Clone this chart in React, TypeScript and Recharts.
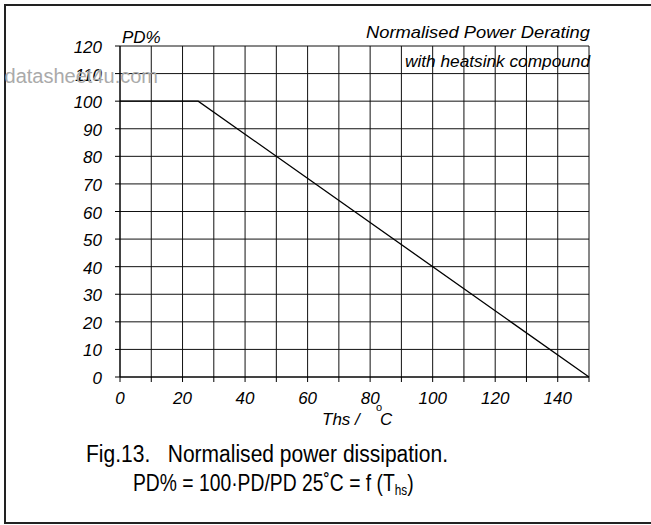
import React from 'react';
import { LineChart, Line, XAxis, YAxis, CartesianGrid } from 'recharts';

// heatsink temperature (°C) and normalised power (%)
const temps = [0, 25, 150];
const derating = [100, 100, 0];

const xTicks = [0, 10, 20, 30, 40, 50, 60, 70, 80, 90, 100, 110, 120, 130, 140, 150];
const yTicks = [0, 10, 20, 30, 40, 50, 60, 70, 80, 90, 100, 110, 120];
const xLabelled = [0, 20, 40, 60, 80, 100, 120, 140];

const data = temps.map((t, i) => ({ ths: t, pd: derating[i] }));

const FONT = '"Liberation Sans", Arial, sans-serif';

const XTick = (props: any) => {
  const { x, y, payload } = props;
  if (!xLabelled.includes(payload.value)) return null;
  return (
    <text x={x} y={y} dy={18} textAnchor="middle" fontFamily={FONT} fontStyle="italic" fontSize={17} fill="#000">
      {payload.value}
    </text>
  );
};

const YTick = (props: any) => {
  const { x, y, payload } = props;
  return (
    <text x={x} y={y} dy={7} textAnchor="end" fontFamily={FONT} fontStyle="italic" fontSize={17} fill="#000">
      {payload.value}
    </text>
  );
};

const App = () => {
  return (
    <div style={{ position: 'absolute', left: 0, top: 0, width: 651, height: 525, background: '#fff', overflow: 'hidden' }}>
      <div
        style={{
          position: 'absolute',
          left: 4,
          top: 4,
          width: 700,
          height: 516,
          borderTop: '2px solid #222',
          borderLeft: '2px solid #222',
          borderBottom: '2px solid #222',
        }}
      />
      <div style={{ position: 'absolute', left: 0, top: 0 }}>
        <LineChart width={651} height={525} data={data} margin={{ top: 46, right: 62, left: 60, bottom: 118 }}>
          <CartesianGrid stroke="#111" strokeWidth={1} />
          <XAxis
            dataKey="ths"
            type="number"
            domain={[0, 150]}
            ticks={xTicks}
            interval={0}
            height={30}
            tickSize={5}
            tickMargin={4}
            axisLine={{ stroke: '#000' }}
            tickLine={{ stroke: '#000' }}
            tick={<XTick />}
          />
          <YAxis
            type="number"
            domain={[0, 120]}
            ticks={yTicks}
            interval={0}
            width={60}
            tickSize={5}
            tickMargin={13}
            axisLine={{ stroke: '#000' }}
            tickLine={{ stroke: '#000' }}
            tick={<YTick />}
          />
          <Line
            type="linear"
            dataKey="pd"
            stroke="#000"
            strokeWidth={1.3}
            dot={false}
            isAnimationActive={false}
          />
        </LineChart>
      </div>
      <svg width={651} height={525} style={{ position: 'absolute', left: 0, top: 0, pointerEvents: 'none' }}>
        <text x={158} y={83} textAnchor="end" fontFamily={FONT} fontSize={20} fill="#aaa">
          datasheet4u.com
        </text>
        <text x={122} y={43} fontFamily={FONT} fontStyle="italic" fontSize={17} fill="#000">
          PD%
        </text>
        <text x={366} y={38} textLength={224} lengthAdjust="spacingAndGlyphs" fontFamily={FONT} fontStyle="italic" fontSize={17} fill="#000">
          Normalised Power Derating
        </text>
        <text x={405} y={67} textLength={185} lengthAdjust="spacingAndGlyphs" fontFamily={FONT} fontStyle="italic" fontSize={16} fill="#000">
          with heatsink compound
        </text>
        <text x={322} y={425} fontFamily={FONT} fontStyle="italic" fontSize={17} fill="#000">
          Ths /
        </text>
        <text x={376} y={411} fontFamily={FONT} fontSize={11} fill="#000">
          o
        </text>
        <text x={380} y={425} fontFamily={FONT} fontStyle="italic" fontSize={17} fill="#000">
          C
        </text>
        <text x={86} y={462} textLength={362} lengthAdjust="spacingAndGlyphs" fontFamily={FONT} fontSize={23} fill="#000">
          Fig.13.{'\u00a0\u00a0\u00a0'}Normalised power dissipation.
        </text>
        <g transform="translate(133,491) scale(0.84,1)">
          <text x={0} y={0} fontFamily={FONT} fontSize={23} fill="#000">
            PD% = 100·PD/PD 25˚C = f (T<tspan fontSize={14} dy={4}>hs</tspan><tspan dy={-4}>)</tspan>
          </text>
        </g>
      </svg>
    </div>
  );
};

export default App;
